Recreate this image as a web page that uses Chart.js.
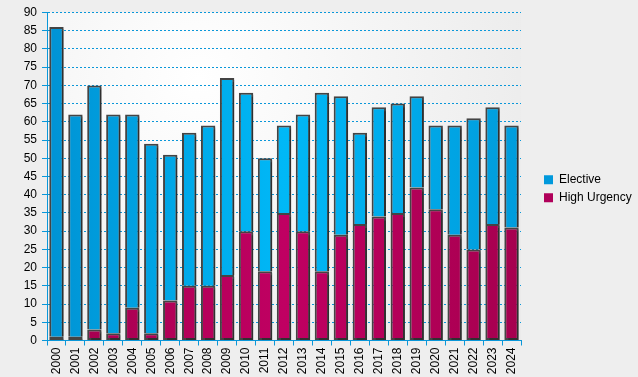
<!DOCTYPE html>
<html>
<head>
<meta charset="utf-8">
<script src="https://cdn.jsdelivr.net/npm/chart.js@4.4.1/dist/chart.umd.min.js"></script>
<style>
  html, body { margin: 0; padding: 0; background: #eeeeee; }
  #wrap { width: 638px; height: 377px; position: relative; }
</style>
</head>
<body>
<div id="wrap"><canvas id="c" width="638" height="377"></canvas></div>
<script>
const years = ['2000','2001','2002','2003','2004','2005','2006','2007','2008','2009','2010','2011','2012','2013','2014','2015','2016','2017','2018','2019','2020','2021','2022','2023','2024'];
const highUrgency = [1, 1, 3, 2, 9, 2, 11, 15, 15, 18, 30, 19, 35, 30, 19, 29, 32, 34, 35, 42, 36, 29, 25, 32, 31];
const elective = [85, 61, 67, 60, 53, 52, 40, 42, 44, 54, 38, 31, 24, 32, 49, 38, 25, 30, 30, 25, 23, 30, 36, 32, 28];
const yTicks = { min: 0, max: 90, step: 5 };

const FONT = "'Liberation Sans', Arial, sans-serif";
const BLUE = '#0a97d9';

function hGrad(ctx, area, stops) {
  const g = ctx.createLinearGradient(area.left, 0, area.right, 0);
  stops.forEach(s => g.addColorStop(s[0], s[1]));
  return g;
}
const electiveFill = (c) => {
  const a = c.chart.chartArea;
  if (!a) return '#00a8e8';
  return hGrad(c.chart.ctx, a, [[0, '#0093d4'], [0.5, '#00b8f7'], [1, '#009cdc']]);
};
const urgencyFill = (c) => {
  const a = c.chart.chartArea;
  if (!a) return '#b4005a';
  return hGrad(c.chart.ctx, a, [[0, '#a3004d'], [0.5, '#c00062'], [1, '#a6004f']]);
};

const bgPlugin = {
  id: 'bg',
  beforeDraw(chart) {
    const { ctx, chartArea: a } = chart;
    ctx.save();
    ctx.fillStyle = '#eeeeee';
    ctx.fillRect(0, 0, chart.width, chart.height);
    const cx = a.left + (a.right - a.left) * 0.32;
    const cy = a.top + (a.bottom - a.top) * 0.2;
    const g = ctx.createRadialGradient(cx, cy, 0, cx, cy, (a.right - a.left) * 0.75);
    g.addColorStop(0, '#ffffff');
    g.addColorStop(1, '#ebebeb');
    ctx.fillStyle = g;
    ctx.fillRect(a.left, a.top, a.right - a.left, a.bottom - a.top);
    ctx.restore();
  },
  beforeDatasetsDraw(chart) {
    const ctx = chart.ctx;
    ctx.save();
    ctx.shadowColor = 'rgba(0,0,0,0.3)';
    ctx.shadowOffsetX = 2;
    ctx.shadowOffsetY = 2;
    ctx.shadowBlur = 0;
  },
  afterDatasetsDraw(chart) {
    chart.ctx.restore();
  }
};

new Chart(document.getElementById('c'), {
  type: 'bar',
  data: {
    labels: years,
    datasets: [
      { label: 'High Urgency', data: highUrgency, backgroundColor: urgencyFill, borderColor: '#444444', borderWidth: 2, borderSkipped: false, barPercentage: 0.76, categoryPercentage: 1 },
      { label: 'Elective', data: elective, backgroundColor: electiveFill, borderColor: '#444444', borderWidth: 2, borderSkipped: 'bottom', barPercentage: 0.76, categoryPercentage: 1 }
    ]
  },
  options: {
    responsive: false,
    animation: false,
    devicePixelRatio: 1,
    layout: { padding: { top: 12.5, right: 0, left: 0, bottom: 0 } },
    plugins: {
      tooltip: { enabled: false },
      legend: {
        position: 'right',
        align: 'center',
        fullSize: false,
        reverse: true,
        maxWidth: 100,
        title: { display: true, text: '', font: { size: 12 }, padding: 5 },
        labels: {
          boxWidth: 9, boxHeight: 9, padding: 6,
          color: '#000',
          font: { family: FONT, size: 12 },
          generateLabels(chart) {
            const items = Chart.defaults.plugins.legend.labels.generateLabels(chart);
            items.forEach(it => {
              it.fillStyle = it.datasetIndex === 0 ? '#b0005a' : '#0099dc';
              it.strokeStyle = 'rgba(0,0,0,0)';
              it.lineWidth = 0;
            });
            return items;
          }
        }
      }
    },
    scales: {
      x: {
        stacked: true,
        grid: { display: true, drawOnChartArea: false, drawTicks: true, tickLength: 5, tickColor: BLUE, offset: true },
        border: { display: true, color: BLUE, width: 1 },
        ticks: { color: '#000', font: { family: FONT, size: 12 }, maxRotation: 90, minRotation: 90, padding: 2, autoSkip: false },
        afterFit(s) { s.height = 36.5; }
      },
      y: {
        stacked: true,
        min: yTicks.min, max: yTicks.max,
        grid: { color: BLUE, lineWidth: 1, tickLength: 5, tickColor: BLUE, tickBorderDash: [] },
        border: { display: true, color: BLUE, width: 1, dash: [2, 2] },
        ticks: { stepSize: yTicks.step, color: '#000', font: { family: FONT, size: 12 }, padding: 5 },
        afterFit(s) { s.width = 47; }
      },
      gap: {
        position: 'right',
        display: true,
        min: 0, max: 1,
        grid: { display: false },
        border: { display: false },
        ticks: { display: false },
        afterFit(s) { s.width = 17; }
      }
    }
  },
  plugins: [bgPlugin]
});
</script>
</body>
</html>
